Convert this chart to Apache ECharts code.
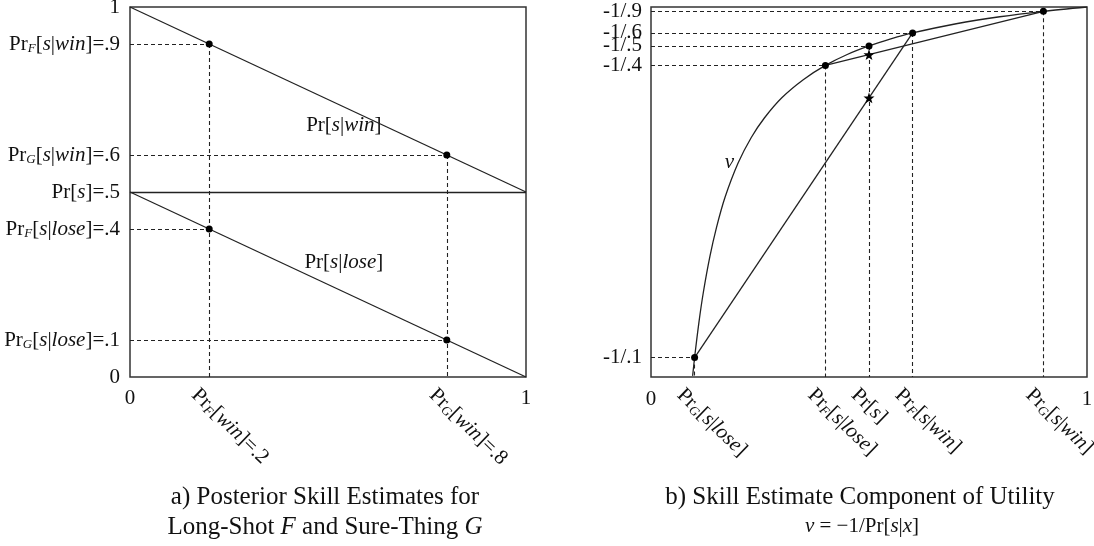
<!DOCTYPE html>
<html><head><meta charset="utf-8">
<script src="https://cdn.jsdelivr.net/npm/echarts@6/dist/echarts.min.js"></script>
<style>html,body{margin:0;padding:0;background:#fff}#c{width:1094px;height:546px}</style>
</head><body><div id="c"></div>
<script>
// ---------- Panel a: posterior skill estimates ----------
const aWinLine  = [[0, 1], [1, 0.5]];
const aLoseLine = [[0, 0.5], [1, 0]];
const aPrSLine  = [[0, 0.5], [1, 0.5]];
const aPoints   = [[0.2, 0.9], [0.8, 0.6], [0.2, 0.4], [0.8, 0.1]];
const aYTicks   = [0, 0.1, 0.4, 0.5, 0.6, 0.9, 1];
const aYLabels  = ['0', 'Pr{s|G}[{i|s}|{i|lose}]=.1', 'Pr{s|F}[{i|s}|{i|lose}]=.4', 'Pr[{i|s}]=.5',
                   'Pr{s|G}[{i|s}|{i|win}]=.6', 'Pr{s|F}[{i|s}|{i|win}]=.9', '1'];
const aXEndTicks  = [0, 1];
const aXEndLabels = ['0', '1'];
const aXRotTicks  = [0.2, 0.8];
const aXRotLabels = ['Pr{s|F}[{i|win}]=.2', 'Pr{s|G}[{i|win}]=.8'];
const aNotes = [{ text: 'Pr[{i|s}|{i|win}]', x: 0.54, y: 0.68 }, { text: 'Pr[{i|s}|{i|lose}]', x: 0.54, y: 0.31 }];

// ---------- Panel b: skill estimate component of utility ----------
const bCurveP = [0.0955, 0.1, 0.11, 0.12, 0.135, 0.15, 0.17, 0.2, 0.23, 0.26, 0.3, 0.35, 0.4, 0.45, 0.5, 0.55, 0.6, 0.7, 0.8, 0.9, 1.0];
const bCurveV = [-10.47, -10, -9.09, -8.33, -7.41, -6.67, -5.88, -5, -4.35, -3.85, -3.33, -2.86, -2.5, -2.22, -2, -1.82, -1.667, -1.43, -1.25, -1.111, -1];
const bPoints = [[0.1, -10], [0.4, -2.5], [0.5, -2], [0.6, -1.667], [0.9, -1.111]];
const bStars  = [[0.5, -2.222], [0.5, -3.333]];
const bChord1 = [[0.4, -2.5], [0.9, -1.111]];
const bChord2 = [[0.1, -10], [0.6, -1.667]];
const bYTicks  = [-10, -2.5, -2, -1.667, -1.111];
const bYLabels = ['-1/.1', '-1/.4', '-1/.5', '-1/.6', '-1/.9'];
const bXEndTicks  = [0, 1];
const bXEndLabels = ['0', '1'];
const bXRotTicks  = [0.1, 0.4, 0.5, 0.6, 0.9];
const bXRotLabels = ['Pr{s|G}[{i|s}|{i|lose}]', 'Pr{s|F}[{i|s}|{i|lose}]', 'Pr[{i|s}]',
                     'Pr{s|F}[{i|s}|{i|win}]', 'Pr{s|G}[{i|s}|{i|win}]'];
const bNotes = [{ text: '{i|v}', x: 0.18, y: -5.0 }];

// ---------- styling ----------
const FONT = 'Liberation Serif';
const INK = '#111';
const LINE = '#222';
const FS = 21;
const rich = {
  i: { fontFamily: FONT, fontSize: FS, fontStyle: 'italic', color: INK, lineHeight: 22 },
  s: { fontFamily: FONT, fontSize: 13, fontStyle: 'italic', color: INK, lineHeight: 13, verticalAlign: 'bottom' }
};
function pick(ticks, labels) {
  return function (v) {
    let best = 0, d = Infinity;
    ticks.forEach((t, k) => { const dd = Math.abs(t - v); if (dd < d) { d = dd; best = k; } });
    return labels[best];
  };
}
function lbl(ticks, labels, extra) {
  return Object.assign({
    customValues: ticks, formatter: pick(ticks, labels), fontFamily: FONT, fontSize: FS,
    color: INK, lineHeight: 22, rich: rich, hideOverlap: false, showMinLabel: true, showMaxLabel: true
  }, extra || {});
}
const rotLabel = { rotate: -44, margin: 0, align: 'left', verticalAlign: 'top', padding: [10, 0, 0, 0] };
const hidden = { axisLine: { show: false }, axisTick: { show: false }, splitLine: { show: false } };
function guides(points, x0, y0) {
  const out = [];
  const top = {};
  points.forEach(p => {
    out.push({ coords: [[x0, p[1]], [p[0], p[1]]] });
    if (!(p[0] in top) || p[1] > top[p[0]]) top[p[0]] = p[1];
  });
  points.forEach(p => {
    if (top[p[0]] === p[1]) out.push({ coords: [[p[0], p[1]], [p[0], y0]] });
  });
  return out;
}
function seg(coords) { return { coords: coords }; }
function lineSeries(data, g, dashed) {
  return {
    type: 'lines', coordinateSystem: 'cartesian2d', xAxisIndex: g * 2, yAxisIndex: g, data: data,
    silent: true, z: dashed ? 2 : 3,
    lineStyle: { color: LINE, width: dashed ? 1.1 : 1.3, opacity: 1, type: dashed ? [4, 3] : 'solid' }
  };
}
function noteSeries(notes, g) {
  return {
    type: 'scatter', xAxisIndex: g * 2, yAxisIndex: g, symbolSize: 0, silent: true,
    itemStyle: { opacity: 1, color: INK },
    data: notes.map(n => ({ value: [n.x, n.y], label: { formatter: n.text } })),
    label: { show: true, position: 'inside', fontFamily: FONT, fontSize: FS, color: INK, opacity: 1, rich: rich }
  };
}
const starPath = 'path://M0,-10L2.35,-3.24L9.51,-3.09L3.8,1.24L5.88,8.09L0,4.2L-5.88,8.09L-3.8,1.24L-9.51,-3.09L-2.35,-3.24Z';
const gridBase = { show: true, borderColor: '#333', borderWidth: 1.5, backgroundColor: 'transparent', containLabel: false, outerBoundsMode: 'none' };

const chart = echarts.init(document.getElementById('c'));
chart.setOption({
  animation: false,
  backgroundColor: '#fff',
  grid: [
    Object.assign({ left: 130, right: 568, top: 7, bottom: 169 }, gridBase),
    Object.assign({ left: 651, right: 7, top: 7, bottom: 169 }, gridBase)
  ],
  xAxis: [
    Object.assign({ gridIndex: 0, type: 'value', position: 'bottom', offset: 0, min: 0, max: 1, axisLabel: lbl(aXEndTicks, aXEndLabels, { margin: 10 }) }, hidden),
    Object.assign({ gridIndex: 0, type: 'value', position: 'bottom', offset: 0, min: 0, max: 1, axisLabel: lbl(aXRotTicks, aXRotLabels, rotLabel) }, hidden),
    Object.assign({ gridIndex: 1, type: 'value', position: 'bottom', offset: 0, min: 0, max: 1, axisLabel: lbl(bXEndTicks, bXEndLabels, { margin: 11 }) }, hidden),
    Object.assign({ gridIndex: 1, type: 'value', position: 'bottom', offset: 0, min: 0, max: 1, axisLabel: lbl(bXRotTicks, bXRotLabels, rotLabel) }, hidden)
  ],
  yAxis: [
    Object.assign({ gridIndex: 0, type: 'value', min: 0, max: 1, axisLabel: lbl(aYTicks, aYLabels, { margin: 10 }) }, hidden),
    Object.assign({ gridIndex: 1, type: 'value', min: -10.5, max: -1, axisLabel: lbl(bYTicks, bYLabels, { margin: 9, lineHeight: 11 }) }, hidden)
  ],
  series: [
    lineSeries([seg(aWinLine), seg(aLoseLine), seg(aPrSLine)], 0, false),
    lineSeries(guides(aPoints, 0, 0), 0, true),
    { type: 'scatter', xAxisIndex: 0, yAxisIndex: 0, data: aPoints, symbol: 'circle', symbolSize: 7,
      itemStyle: { color: '#000', opacity: 1 }, z: 5, silent: true },
    noteSeries(aNotes, 0),

    { type: 'line', xAxisIndex: 2, yAxisIndex: 1, data: bCurveP.map((p, k) => [p, bCurveV[k]]),
      showSymbol: false, smooth: 0.3, lineStyle: { color: LINE, width: 1.3 }, z: 3, silent: true },
    lineSeries([seg(bChord1), seg(bChord2)], 1, false),
    lineSeries(guides(bPoints, 0, -10.5), 1, true),
    { type: 'scatter', xAxisIndex: 2, yAxisIndex: 1, data: bPoints, symbol: 'circle', symbolSize: 7,
      itemStyle: { color: '#000', opacity: 1 }, z: 5, silent: true },
    { type: 'scatter', xAxisIndex: 2, yAxisIndex: 1, data: bStars, symbol: starPath, symbolSize: 11,
      itemStyle: { color: '#000', opacity: 1 }, z: 5, silent: true },
    noteSeries(bNotes, 1)
  ],
  graphic: [
    { type: 'text', x: 325, y: 497, style: { text: 'a) Posterior Skill Estimates for', fontFamily: FONT, fontSize: 25, fill: INK, align: 'center', verticalAlign: 'middle' } },
    { type: 'text', x: 325, y: 527, style: { text: 'Long-Shot {i|F} and Sure-Thing {i|G}', fontFamily: FONT, fontSize: 25, fill: INK, align: 'center', verticalAlign: 'middle',
      rich: { i: { fontFamily: FONT, fontSize: 25, fontStyle: 'italic', fill: INK } } } },
    { type: 'text', x: 860, y: 497, style: { text: 'b) Skill Estimate Component of Utility', fontFamily: FONT, fontSize: 25, fill: INK, align: 'center', verticalAlign: 'middle' } },
    { type: 'text', x: 862, y: 526, style: { text: '{i|v} = \u22121/Pr[{i|s}|{i|x}]', fontFamily: FONT, fontSize: 21, fill: INK, align: 'center', verticalAlign: 'middle',
      rich: { i: { fontFamily: FONT, fontSize: 21, fontStyle: 'italic', fill: INK } } } }
  ]
});
</script></body></html>
